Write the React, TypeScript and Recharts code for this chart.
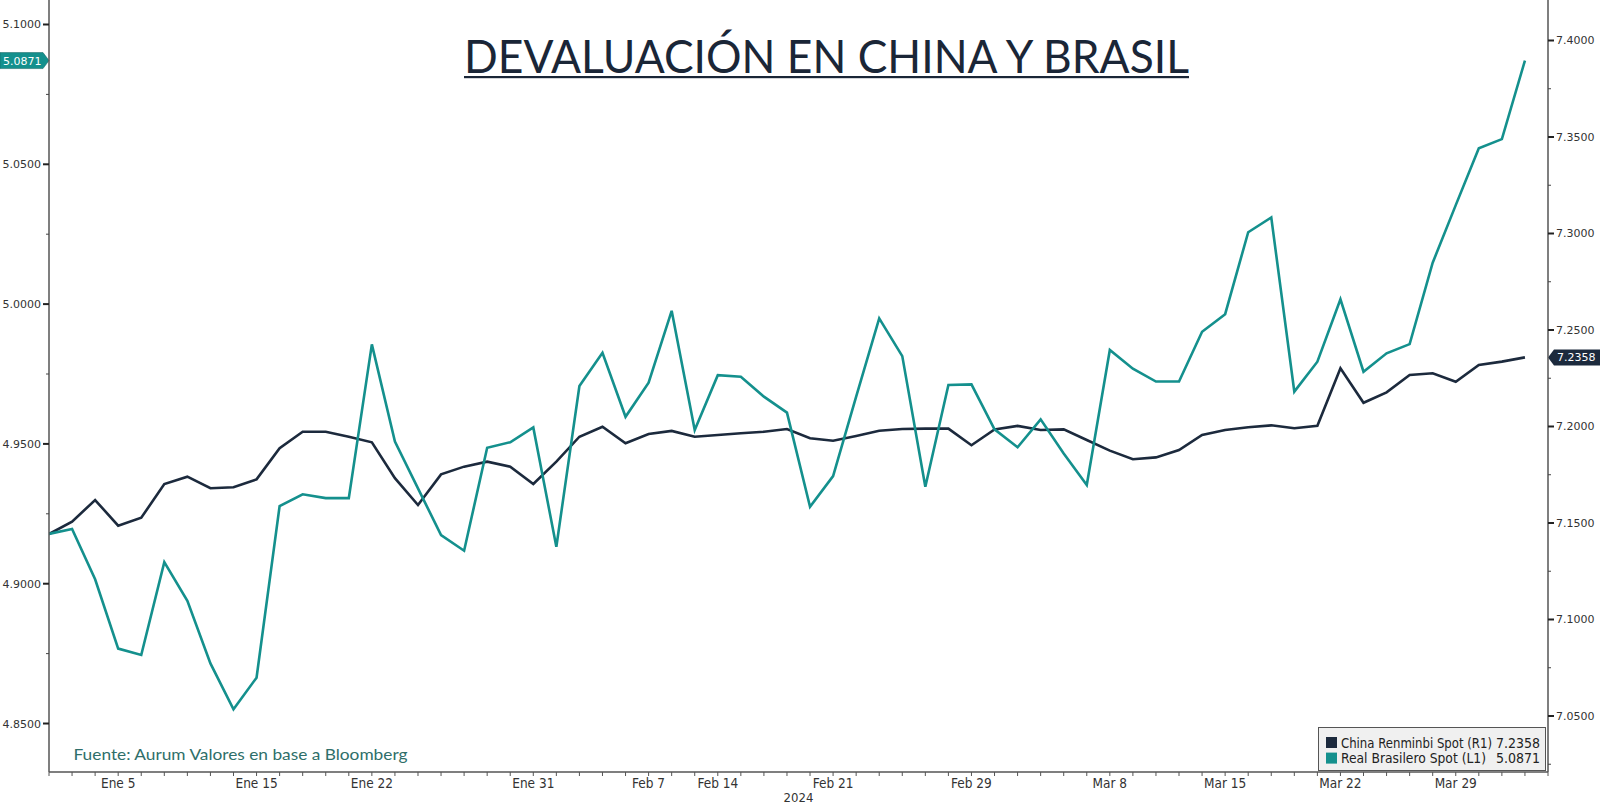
import React from 'react';
import { LineChart, Line, XAxis, YAxis, ReferenceLine, Legend } from 'recharts';

const dates = [
  '2024-01-02', '2024-01-03', '2024-01-04', '2024-01-05', '2024-01-08', '2024-01-09', '2024-01-10', '2024-01-11',
  '2024-01-12', '2024-01-15', '2024-01-16', '2024-01-17', '2024-01-18', '2024-01-19', '2024-01-22', '2024-01-23',
  '2024-01-24', '2024-01-25', '2024-01-26', '2024-01-29', '2024-01-30', '2024-01-31', '2024-02-01', '2024-02-02',
  '2024-02-05', '2024-02-06', '2024-02-07', '2024-02-08', '2024-02-09', '2024-02-14', '2024-02-15', '2024-02-16',
  '2024-02-19', '2024-02-20', '2024-02-21', '2024-02-22', '2024-02-23', '2024-02-26', '2024-02-27', '2024-02-28',
  '2024-02-29', '2024-03-01', '2024-03-04', '2024-03-05', '2024-03-06', '2024-03-07', '2024-03-08', '2024-03-11',
  '2024-03-12', '2024-03-13', '2024-03-14', '2024-03-15', '2024-03-18', '2024-03-19', '2024-03-20', '2024-03-21',
  '2024-03-22', '2024-03-25', '2024-03-26', '2024-03-27', '2024-03-28', '2024-03-29', '2024-04-01', '2024-04-02',
  '2024-04-03',
];

// China Renminbi Spot (R1)
const cnyValues = [
  7.1443, 7.1507, 7.1619, 7.1486, 7.1527, 7.1702, 7.1740, 7.1680,
  7.1685, 7.1726, 7.1887, 7.1973, 7.1973, 7.1947, 7.1918, 7.1732,
  7.1593, 7.1752, 7.1792, 7.1818, 7.1792, 7.1702, 7.1818, 7.1947,
  7.1999, 7.1913, 7.1961, 7.1977, 7.1947, 7.1956, 7.1965, 7.1973,
  7.1987, 7.1939, 7.1926, 7.1951, 7.1978, 7.1987, 7.1989, 7.1989,
  7.1903, 7.1985, 7.2003, 7.1982, 7.1985, 7.1930, 7.1875, 7.1830,
  7.1840, 7.1878, 7.1956, 7.1982, 7.1996, 7.2006, 7.1991, 7.2004,
  7.2302, 7.2123, 7.2177, 7.2267, 7.2276, 7.2232, 7.2319, 7.2336,
  7.2358,
];

// Real Brasilero Spot (L1)
const brlValues = [
  4.9178, 4.9196, 4.9016, 4.8768, 4.8745, 4.9077, 4.8939, 4.8715,
  4.8551, 4.8664, 4.9278, 4.9320, 4.9306, 4.9306, 4.9856, 4.9508,
  4.9341, 4.9174, 4.9118, 4.9486, 4.9506, 4.9559, 4.9132, 4.9707,
  4.9826, 4.9597, 4.9719, 4.9976, 4.9550, 4.9746, 4.9740, 4.9669,
  4.9612, 4.9275, 4.9385, 4.9669, 4.9949, 4.9814, 4.9347, 4.9711,
  4.9713, 4.9552, 4.9488, 4.9588, 4.9466, 4.9353, 4.9836, 4.9769,
  4.9723, 4.9723, 4.9901, 4.9964, 5.0257, 5.0310, 4.9687, 4.9794,
  5.0017, 4.9758, 4.9824, 4.9857, 5.0148, 5.0354, 5.0557, 5.0590,
  5.0871,
];

const seriesNames = ['China Renminbi Spot (R1)', 'Real Brasilero Spot (L1)'];
const tickDates = ['2024-01-05', '2024-01-15', '2024-01-22', '2024-01-31', '2024-02-07', '2024-02-14', '2024-02-21', '2024-02-29', '2024-03-08', '2024-03-15', '2024-03-22', '2024-03-29'];
const tickLabels = ['Ene 5', 'Ene 15', 'Ene 22', 'Ene 31', 'Feb 7', 'Feb 14', 'Feb 21', 'Feb 29', 'Mar 8', 'Mar 15', 'Mar 22', 'Mar 29'];
const leftMajorTicks = [4.85, 4.9, 4.95, 5.0, 5.05, 5.1];
const leftMinorTicks = [4.875, 4.925, 4.975, 5.025, 5.075];
const rightMajorTicks = [7.05, 7.1, 7.15, 7.2, 7.25, 7.3, 7.35, 7.4];
const rightMinorTicks = [7.025, 7.075, 7.125, 7.175, 7.225, 7.275, 7.325, 7.375];
const yearLabel = '2024';
const title = 'DEVALUACIÓN EN CHINA Y BRASIL';
const sourceText = 'Fuente: Aurum Valores en base a Bloomberg';

const NAVY = '#1c2a3d';
const TEAL = '#14908d';
const AXIS = '#555555';
const LABEL_FONT = '"DejaVu Sans", Verdana, sans-serif';
const NARROW_FONT = '"Liberation Sans Narrow", "Arial Narrow", "DejaVu Sans Condensed", sans-serif';

const data = dates.map((d, i) => ({ i, date: d, cny: cnyValues[i], brl: brlValues[i] }));
const xTicks = Array.from({ length: dates.length + 1 }, (_, k) => k);
const labelByIndex: Record<number, string> = {};
tickDates.forEach((d, k) => {
  const idx = dates.indexOf(d);
  if (idx >= 0) labelByIndex[idx] = tickLabels[k];
});
const leftTicks = [...leftMajorTicks, ...leftMinorTicks].sort((a, b) => a - b);
const rightTicks = [...rightMajorTicks, ...rightMinorTicks].sort((a, b) => a - b);
const isMajor = (arr: number[], v: number) => arr.some((m) => Math.abs(m - v) < 1e-9);

const XTick = (props: any) => {
  const { x, y, payload } = props;
  const axisY = y - 8;
  const label = labelByIndex[payload.value];
  return (
    <g>
      <line x1={x} x2={x} y1={axisY} y2={axisY + 4} stroke={AXIS} strokeWidth={1} />
      {label ? (
        <text x={x} y={axisY + 16} textAnchor="middle" fontFamily={NARROW_FONT} fontSize={13.5} fill="#333">
          {label}
        </text>
      ) : null}
    </g>
  );
};

const LeftTick = (props: any) => {
  const { x, y, payload } = props;
  const axisX = x + 8;
  const major = isMajor(leftMajorTicks, payload.value);
  return (
    <g>
      {major ? (
        <>
          <line x1={axisX - 6} x2={axisX} y1={y} y2={y} stroke="#222" strokeWidth={2} />
          <text x={axisX - 8} y={y + 4} textAnchor="end" fontFamily={LABEL_FONT} fontSize={11} fill="#333">
            {payload.value.toFixed(4)}
          </text>
        </>
      ) : (
        <line x1={axisX - 3} x2={axisX} y1={y} y2={y} stroke="#444" strokeWidth={1} />
      )}
    </g>
  );
};

const RightTick = (props: any) => {
  const { x, y, payload } = props;
  const axisX = x - 8;
  const major = isMajor(rightMajorTicks, payload.value);
  return (
    <g>
      {major ? (
        <>
          <line x1={axisX} x2={axisX + 6} y1={y} y2={y} stroke="#222" strokeWidth={2} />
          <text x={axisX + 8} y={y + 4} textAnchor="start" fontFamily={LABEL_FONT} fontSize={11} fill="#333">
            {payload.value.toFixed(4)}
          </text>
        </>
      ) : (
        <line x1={axisX} x2={axisX + 3} y1={y} y2={y} stroke="#444" strokeWidth={1} />
      )}
    </g>
  );
};

const LeftBadge = (props: any) => {
  const vb = props.viewBox || {};
  const ax = vb.x;
  const y = vb.y;
  const v = brlValues[brlValues.length - 1];
  return (
    <g>
      <polygon
        points={`${ax - 49},${y - 8} ${ax - 6},${y - 8} ${ax},${y} ${ax - 6},${y + 8} ${ax - 49},${y + 8}`}
        fill={TEAL}
        stroke="#0d5f5d"
        strokeWidth={0.5}
      />
      <text x={ax - 46} y={y + 4} fontFamily={LABEL_FONT} fontSize={11} fill="#fff">
        {v.toFixed(4)}
      </text>
    </g>
  );
};

const RightBadge = (props: any) => {
  const vb = props.viewBox || {};
  const ax = vb.x + vb.width;
  const y = vb.y;
  const v = cnyValues[cnyValues.length - 1];
  return (
    <g>
      <polygon
        points={`${ax},${y} ${ax + 6},${y - 8} ${ax + 52},${y - 8} ${ax + 52},${y + 8} ${ax + 6},${y + 8}`}
        fill={NAVY}
      />
      <text x={ax + 9} y={y + 4} fontFamily={LABEL_FONT} fontSize={11} fill="#fff">
        {v.toFixed(4)}
      </text>
    </g>
  );
};

const LegendBox = () => {
  const rows = [
    { name: seriesNames[0], color: NAVY, value: cnyValues[cnyValues.length - 1], w: 151 },
    { name: seriesNames[1], color: TEAL, value: brlValues[brlValues.length - 1], w: 145 },
  ];
  return (
    <svg width={228} height={44} style={{ display: 'block' }}>
      <rect x={0.5} y={0.5} width={227} height={43} fill="#f0f0f0" stroke="#555" strokeWidth={1} />
      {rows.map((r, k) => (
        <g key={r.name}>
          <rect x={8} y={10 + k * 15.6} width={11} height={11} fill={r.color} />
          <text x={23} y={20.5 + k * 15.6} textLength={r.w} lengthAdjust="spacingAndGlyphs" fontFamily={NARROW_FONT} fontSize={13.5} fill="#222">
            {r.name}
          </text>
          <text x={178} y={20.5 + k * 15.6} textLength={44} lengthAdjust="spacingAndGlyphs" fontFamily={NARROW_FONT} fontSize={13.5} fill="#222">
            {r.value.toFixed(4)}
          </text>
        </g>
      ))}
    </svg>
  );
};

export default function App() {
  return (
    <div style={{ position: 'fixed', left: 0, top: 0, width: 1600, height: 805, background: '#ffffff', overflow: 'hidden' }}>
      <LineChart width={1600} height={805} data={data} margin={{ top: 0, right: 0, bottom: 0, left: 0 }}>
        <XAxis
          dataKey="i"
          type="number"
          domain={[0, 65]}
          ticks={xTicks}
          interval={0}
          height={33}
          allowDataOverflow
          axisLine={{ stroke: AXIS, strokeWidth: 1.5 }}
          tickLine={false}
          tickSize={6}
          tickMargin={2}
          tick={(p: any) => <XTick {...p} />}
          label={{ value: yearLabel, position: 'insideBottom', offset: 3, fontFamily: NARROW_FONT, fontSize: 13, fill: '#333' }}
        />
        <YAxis
          yAxisId="left"
          orientation="left"
          type="number"
          width={49}
          domain={[4.83266, 5.10876]}
          ticks={leftTicks}
          interval={0}
          allowDataOverflow
          axisLine={{ stroke: AXIS, strokeWidth: 1.5 }}
          tickLine={false}
          tickSize={6}
          tickMargin={2}
          tick={(p: any) => <LeftTick {...p} />}
        />
        <YAxis
          yAxisId="right"
          orientation="right"
          type="number"
          width={52}
          domain={[7.02098, 7.42098]}
          ticks={rightTicks}
          interval={0}
          allowDataOverflow
          axisLine={{ stroke: AXIS, strokeWidth: 1.5 }}
          tickLine={false}
          tickSize={6}
          tickMargin={2}
          tick={(p: any) => <RightTick {...p} />}
        />
        <Line yAxisId="right" type="linear" dataKey="cny" stroke={NAVY} strokeWidth={2.6} dot={false} activeDot={false} isAnimationActive={false} />
        <Line yAxisId="left" type="linear" dataKey="brl" stroke={TEAL} strokeWidth={2.6} dot={false} activeDot={false} isAnimationActive={false} />
        <ReferenceLine yAxisId="left" y={brlValues[brlValues.length - 1]} stroke="none" label={(p: any) => <LeftBadge {...p} />} />
        <ReferenceLine yAxisId="right" y={cnyValues[cnyValues.length - 1]} stroke="none" label={(p: any) => <RightBadge {...p} />} />
        <Legend
          layout="horizontal"
          verticalAlign="middle"
          align="center"
          wrapperStyle={{ position: 'absolute', left: 1318, top: 727, width: 228, height: 44 }}
          content={() => <LegendBox />}
        />
      </LineChart>
      <svg width={1600} height={805} style={{ position: 'absolute', left: 0, top: 0, pointerEvents: 'none' }}>
        <text x={464} y={73} textLength={725} lengthAdjust="spacingAndGlyphs" fontFamily="Lato, 'Open Sans', sans-serif" fontSize={47} fill="#1a2637">
          {title}
        </text>
        <rect x={464} y={76} width={725} height={2.2} fill="#1a2637" />
        <text x={73.5} y={760} textLength={334} lengthAdjust="spacingAndGlyphs" fontFamily="Lato, 'Open Sans', sans-serif" fontSize={16} fill="#2f6f6a">
          {sourceText}
        </text>
      </svg>
    </div>
  );
}
